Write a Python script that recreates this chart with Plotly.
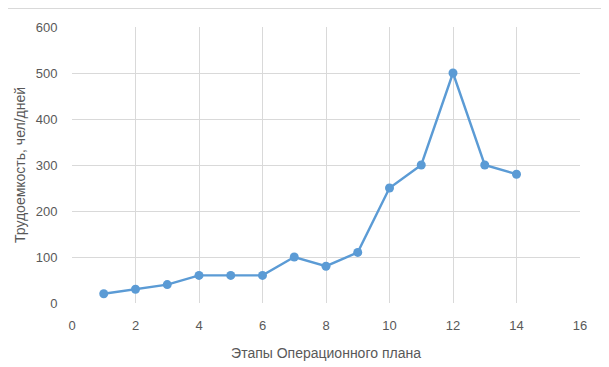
import plotly.graph_objects as go

stages = [1, 2, 3, 4, 5, 6, 7, 8, 9, 10, 11, 12, 13, 14]
labor = [20, 30, 40, 60, 60, 60, 100, 80, 110, 250, 300, 500, 300, 280]
x_ticks = [0, 2, 4, 6, 8, 10, 12, 14, 16]
y_ticks = [0, 100, 200, 300, 400, 500, 600]

W, H = 601, 359
L, R, T, B = 64, 29, 19, 64

fig = go.Figure()
fig.add_trace(go.Scatter(
    x=stages, y=labor, mode="lines+markers",
    line=dict(color="#5b9bd5", width=2.4),
    marker=dict(color="#5b9bd5", size=9),
    showlegend=False, cliponaxis=False,
))

pw = W - L - R
ph = H - T - B
top_y = (H - B - 0.5) / ph
right_x = (596 - L) / pw
fig.add_shape(type="line", xref="paper", yref="paper",
              x0=-L / pw, x1=right_x, y0=top_y, y1=top_y,
              line=dict(color="#d9d9d9", width=1))
fig.add_shape(type="line", xref="paper", yref="paper",
              x0=right_x, x1=right_x, y0=top_y, y1=-B / ph,
              line=dict(color="#d9d9d9", width=1))

fig.update_layout(
    width=W, height=H,
    margin=dict(l=L, r=R, t=T, b=B),
    paper_bgcolor="white", plot_bgcolor="white",
    font=dict(family="Liberation Sans, Arial, sans-serif", size=13, color="#595959"),
    xaxis=dict(
        range=[0, 16], tickvals=x_ticks, showgrid=True, gridcolor="#d9d9d9",
        gridwidth=1, zeroline=False, showline=False,
        ticks="outside", ticklen=10, tickcolor="rgba(0,0,0,0)", automargin=False,
        title=dict(text="Этапы Операционного плана", font=dict(size=14, color="#595959"), standoff=16),
    ),
    yaxis=dict(
        range=[0, 600], tickvals=y_ticks, showgrid=True, gridcolor="#d9d9d9",
        gridwidth=1, zeroline=False, showline=False,
        ticks="outside", ticklen=11, tickcolor="rgba(0,0,0,0)", automargin=False,
        title=dict(text="Трудоемкость, чел/дней", font=dict(size=14, color="#595959"), standoff=6),
    ),
)

fig.write_html("out.html")
